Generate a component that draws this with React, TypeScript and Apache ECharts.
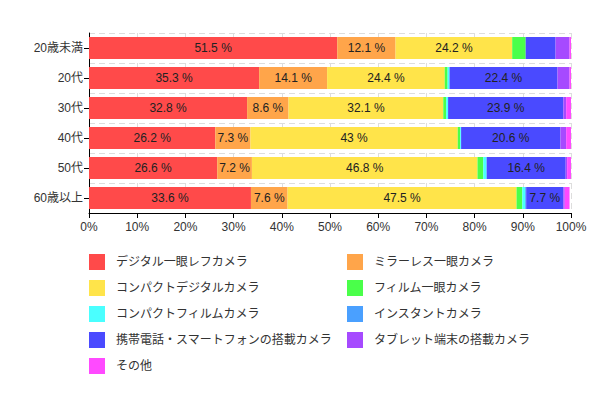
import React, { useEffect, useRef } from "react";
import * as echarts from "echarts";

const categories = ["20歳未満", "20代", "30代", "40代", "50代", "60歳以上"];
const seriesNames = [
  "デジタル一眼レフカメラ",
  "ミラーレス一眼カメラ",
  "コンパクトデジタルカメラ",
  "フィルム一眼カメラ",
  "コンパクトフィルムカメラ",
  "インスタントカメラ",
  "携帯電話・スマートフォンの搭載カメラ",
  "タブレット端末の搭載カメラ",
  "その他",
];
const dslr = [51.5, 35.3, 32.8, 26.2, 26.6, 33.6];
const mirrorless = [12.1, 14.1, 8.6, 7.3, 7.2, 7.6];
const compactDigital = [24.2, 24.4, 32.1, 43, 46.8, 47.5];
const filmSlr = [2.8, 0.6, 0.6, 0.5, 1.2, 1.2];
const compactFilm = [0, 0.4, 0.4, 0.2, 0.7, 0.6];
const instant = [0, 0, 0, 0, 0, 0.2];
const smartphone = [6.2, 22.4, 23.9, 20.6, 16.4, 7.7];
const tablet = [2.9, 2.5, 0.6, 1.2, 0.3, 0.3];
const other = [0.3, 0.3, 1.0, 1.0, 0.8, 1.0];
const seriesData = [dslr, mirrorless, compactDigital, filmSlr, compactFilm, instant, smartphone, tablet, other];
const colors = ["#ff4a4a", "#ffa54a", "#ffe44a", "#4aff4a", "#4affff", "#4aa0ff", "#4a4aff", "#a64aff", "#ff4aff"];

const FONT = "'Liberation Sans', 'Noto Sans CJK JP', sans-serif";

export default function App() {
  const ref = useRef<HTMLDivElement>(null);
  useEffect(() => {
    if (!ref.current) return;
    const chart = echarts.init(ref.current, null, { renderer: "svg" });
    const series = seriesNames.map((name, i) => ({
      name,
      type: "bar",
      stack: "total",
      barWidth: 22,
      data: seriesData[i],
      itemStyle: { color: colors[i] },
      label: {
        show: true,
        position: "inside",
        color: "#222",
        fontSize: 12,
        fontFamily: FONT,
        formatter: (p: any) => (p.value >= 7 ? `${p.value} %` : ""),
      },
    }));
    const legendBase = {
      orient: "vertical",
      top: 254,
      padding: 0,
      itemWidth: 16,
      itemHeight: 16,
      itemGap: 10,
      icon: "rect",
      textStyle: { color: "#333", fontSize: 12, fontFamily: FONT, padding: [0, 0, 0, 6] },
    };
    chart.setOption({
      animation: false,
      color: colors,
      textStyle: { fontFamily: FONT },
      grid: { left: 89, right: 27, top: 33, bottom: 185 },
      legend: [
        { ...legendBase, data: [0, 2, 4, 6, 8].map((i) => seriesNames[i]), left: 89 },
        { ...legendBase, data: [1, 3, 5, 7].map((i) => seriesNames[i]), left: 347 },
      ],
      xAxis: {
        type: "value",
        min: 0,
        max: 100,
        interval: 10,
        axisLine: { show: true, lineStyle: { color: "#000" } },
        axisTick: { show: true, length: 5, lineStyle: { color: "#000" } },
        axisLabel: { color: "#333", fontSize: 12, formatter: "{value}%", margin: 8 },
        splitLine: { show: true, lineStyle: { color: "#ddd", type: [6, 4] } },
      },
      yAxis: {
        type: "category",
        data: categories,
        inverse: true,
        axisLine: { show: true, lineStyle: { color: "#000" } },
        axisTick: { show: true, alignWithLabel: true, length: 5, lineStyle: { color: "#000" } },
        axisLabel: { color: "#333", fontSize: 12, margin: 6 },
        splitLine: { show: true, lineStyle: { color: "#ddd", type: [6, 4] } },
      },
      series,
    });
    return () => chart.dispose();
  }, []);
  return (
    <div
      ref={ref}
      style={{ position: "fixed", left: 0, top: 0, width: 598, height: 398, background: "#fff" }}
    />
  );
}
